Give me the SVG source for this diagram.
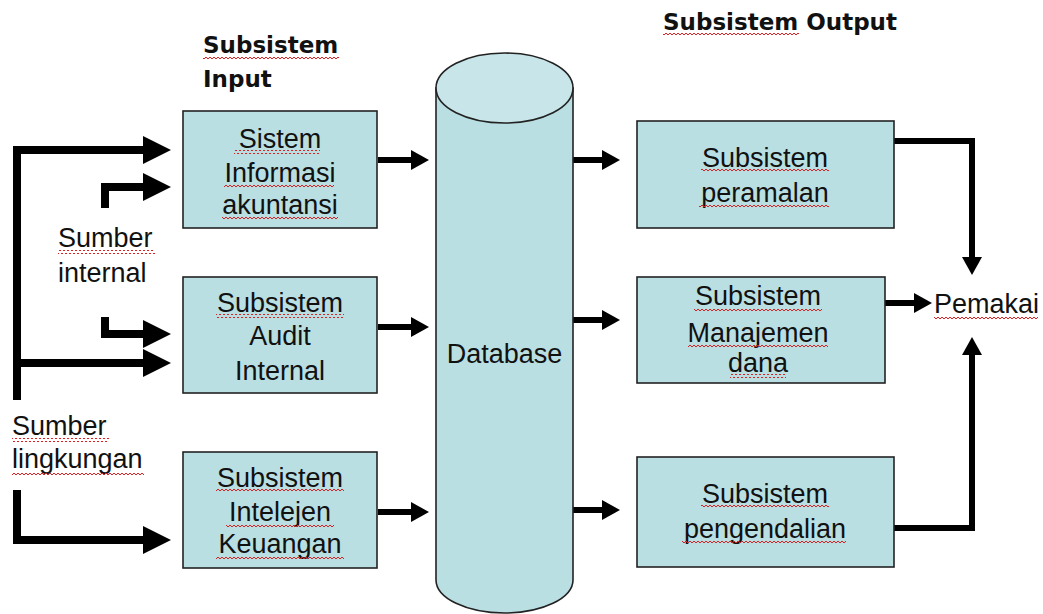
<svg xmlns="http://www.w3.org/2000/svg" width="1043" height="614" viewBox="0 0 1043 614">
<style>
.box{fill:#b9dfe3;stroke:#222;stroke-width:1.6}
.t{font-family:"Liberation Sans",Arial,sans-serif;font-size:27px;fill:#111;text-anchor:middle}
.tl{font-family:"Liberation Sans",Arial,sans-serif;font-size:27px;fill:#111}
.h{font-family:"DejaVu Sans",Verdana,sans-serif;font-weight:bold;font-size:23px;fill:#111}
.big{fill:none;stroke:#000;stroke-width:8;stroke-linejoin:miter;marker-end:url(#mb)}
.sm{fill:none;stroke:#000;stroke-width:6;stroke-linejoin:miter;marker-end:url(#ms)}
.sq{fill:url(#wave)}
</style>
<defs>
<marker id="mb" markerUnits="userSpaceOnUse" viewBox="0 0 28 28" refX="1" refY="14" markerWidth="28" markerHeight="28" orient="auto"><path d="M0,0 L28,14 L0,28 z" fill="#000"/></marker>
<marker id="ms" markerUnits="userSpaceOnUse" viewBox="0 0 18 20" refX="1" refY="10" markerWidth="18" markerHeight="20" orient="auto"><path d="M0,0 L18,10 L0,20 z" fill="#000"/></marker>
<pattern id="wave" patternUnits="userSpaceOnUse" width="4" height="4"><path d="M0,3 L2,1 L4,3" fill="none" stroke="#e02020" stroke-width="1"/></pattern>
</defs>

<g id="title-input">
<text class="h" x="203" y="53">Subsistem</text>
<text class="h" x="203" y="87">Input</text>
<rect class="sq" x="203" y="55" width="136" height="4"/>
</g>
<g id="title-output">
<text class="h" x="663" y="30">Subsistem Output</text>
<rect class="sq" x="663" y="32" width="136" height="4"/>
</g>

<g id="connectors">
<path class="big" d="M17,400 V150 H144"/>
<path class="big" d="M17,363 H144"/>
<path class="big" d="M105,208 V187 H144"/>
<path class="big" d="M105,317 V334 H144"/>
<path class="big" d="M17,490 V540 H144"/>
<path class="sm" d="M378,160 H412"/>
<path class="sm" d="M378,327 H412"/>
<path class="sm" d="M378,512 H412"/>
<path class="sm" d="M573,160 H603"/>
<path class="sm" d="M573,320 H603"/>
<path class="sm" d="M573,510 H603"/>
<path class="sm" d="M894,141 H972 V258"/>
<path class="sm" d="M894,528 H972 V354"/>
<path class="sm" d="M885,303 H915"/>
</g>

<g id="sumber-internal">
<text class="tl" x="58" y="247">Sumber</text>
<text class="tl" x="58" y="282">internal</text>
<rect class="sq" x="58" y="250" width="97" height="4"/>
</g>
<g id="sumber-lingkungan">
<text class="tl" x="12" y="435">Sumber</text>
<text class="tl" x="12" y="468">lingkungan</text>
<rect class="sq" x="12" y="438" width="97" height="4"/>
<rect class="sq" x="12" y="471" width="132" height="4"/>
</g>

<g id="sia">
<rect class="box" x="183" y="111" width="194" height="117"/>
<text class="t" x="280" y="148">Sistem</text>
<text class="t" x="280" y="182">Informasi</text>
<text class="t" x="280" y="214">akuntansi</text>
<rect class="sq" x="234" y="150" width="86" height="4"/>
<rect class="sq" x="224" y="184" width="110" height="4"/>
<rect class="sq" x="222" y="216" width="116" height="4"/>
</g>
<g id="audit">
<rect class="box" x="183" y="277" width="194" height="116"/>
<text class="t" x="280" y="312">Subsistem</text>
<text class="t" x="280" y="345">Audit</text>
<text class="t" x="280" y="380">Internal</text>
<rect class="sq" x="216" y="314" width="128" height="4"/>
</g>
<g id="intelejen">
<rect class="box" x="183" y="452" width="194" height="116"/>
<text class="t" x="280" y="487">Subsistem</text>
<text class="t" x="280" y="521">Intelejen</text>
<text class="t" x="280" y="553">Keuangan</text>
<rect class="sq" x="216" y="489" width="128" height="4"/>
<rect class="sq" x="226" y="523" width="108" height="4"/>
<rect class="sq" x="216" y="555" width="128" height="4"/>
</g>

<g id="database">
<path d="M436,88 V580 A68.5,33 0 0 0 573,580 V88 z" fill="#b9dfe3" stroke="#222" stroke-width="1.6"/>
<ellipse cx="504.5" cy="88" rx="68.5" ry="35" fill="#c8e6ea" stroke="#222" stroke-width="1.6"/>
<text class="t" x="504.5" y="363">Database</text>
</g>

<g id="peramalan">
<rect class="box" x="637" y="121" width="257" height="107"/>
<text class="t" x="765" y="167">Subsistem</text>
<text class="t" x="765" y="202">peramalan</text>
<rect class="sq" x="701" y="169" width="128" height="4"/>
<rect class="sq" x="699" y="204" width="130" height="4"/>
</g>
<g id="manajemen">
<rect class="box" x="637" y="277" width="248" height="106"/>
<text class="t" x="758" y="305">Subsistem</text>
<text class="t" x="758" y="342">Manajemen</text>
<text class="t" x="758" y="372">dana</text>
<rect class="sq" x="694" y="307" width="128" height="4"/>
<rect class="sq" x="688" y="344" width="140" height="4"/>
<rect class="sq" x="730" y="374" width="56" height="4"/>
</g>
<g id="pengendalian">
<rect class="box" x="637" y="457" width="257" height="110"/>
<text class="t" x="765" y="503">Subsistem</text>
<text class="t" x="765" y="538">pengendalian</text>
<rect class="sq" x="701" y="505" width="128" height="4"/>
<rect class="sq" x="682" y="540" width="164" height="4"/>
</g>
<g id="pemakai">
<text class="tl" x="934" y="313">Pemakai</text>
<rect class="sq" x="934" y="316" width="104" height="4"/>
</g>
</svg>
